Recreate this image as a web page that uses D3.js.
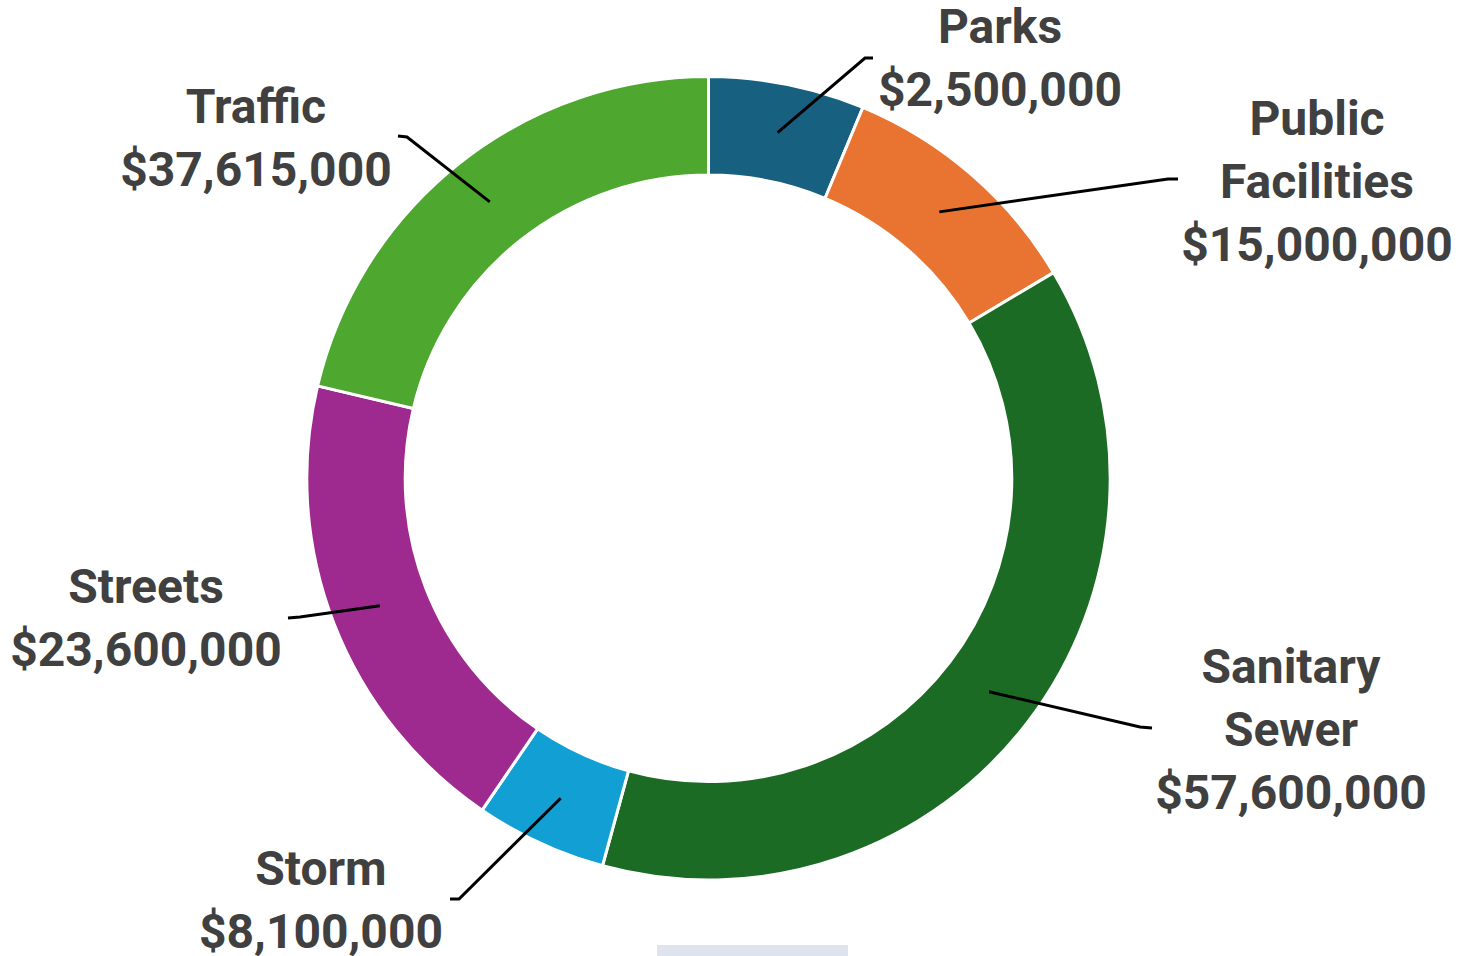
<!DOCTYPE html>
<html>
<head>
<meta charset="utf-8">
<script src="https://cdn.jsdelivr.net/npm/d3@7"></script>
<style>
  html, body { margin: 0; padding: 0; background: #fff; }
  #chart { width: 1463px; height: 956px; }
</style>
</head>
<body>
<div id="chart"></div>
<script>
// Categories, in drawing order (clockwise from 12 o'clock)
const categories = ["Parks", "Public Facilities", "Sanitary Sewer", "Storm", "Streets", "Traffic"];
// Dollar amounts shown in the labels
const amounts = [2500000, 15000000, 57600000, 8100000, 23600000, 37615000];
// Slice shares (percent of the ring) as drawn in the picture
const sliceShare = [6.28, 10.17, 37.81, 5.28, 19.17, 21.31];
// Label lines (category names split the way the chart wraps them)
const labelLines = [["Parks"], ["Public", "Facilities"], ["Sanitary", "Sewer"], ["Storm"], ["Streets"], ["Traffic"]];
const colors = ["#17607f", "#e97432", "#1b6b24", "#119fd4", "#9e2a8f", "#4ea72e"];

const width = 1463, height = 956;
const cx = 708.5, cy = 478.3;
const outerR = 401.7, innerR = 303.3;

// label placement: centre x, first baseline, leader elbow and end
const labelPos = {
  "Parks":             { x: 1000, y: 43,  elbow: [865, 58],   end: [873, 58] },
  "Public Facilities": { x: 1317, y: 135, elbow: [1168, 179], end: [1178, 179] },
  "Sanitary Sewer":    { x: 1291, y: 683, elbow: [1140, 727], end: [1152, 728] },
  "Storm":             { x: 321,  y: 885, elbow: [459, 899],  end: [450, 899] },
  "Streets":           { x: 146,  y: 603, elbow: [300, 617],  end: [288, 618] },
  "Traffic":           { x: 256,  y: 123, elbow: [407, 137],  end: [398, 136] }
};
const lineGap = 63;

const data = categories.map((c, i) => ({
  name: c, amount: amounts[i], share: sliceShare[i], lines: labelLines[i], color: colors[i]
}));

const svg = d3.select("#chart").append("svg")
  .attr("width", width)
  .attr("height", height)
  .style("background-color", "#ffffff");

const pie = d3.pie()
  .value(d => d.share)
  .sort(null);

const arc = d3.arc()
  .innerRadius(innerR)
  .outerRadius(outerR);

const arcs = pie(data);

const ring = svg.append("g")
  .attr("transform", `translate(${cx},${cy})`);

ring.selectAll(".slice")
  .data(arcs)
  .enter()
  .append("path")
  .attr("class", "slice")
  .attr("d", arc)
  .attr("fill", d => d.data.color)
  .attr("stroke", "#ffffff")
  .attr("stroke-width", 3)
  .attr("stroke-linejoin", "miter");

// Leader lines from ring centroid to label elbow
const fmt = d3.format("$,");

svg.selectAll(".leader")
  .data(arcs)
  .enter()
  .append("polyline")
  .attr("class", "leader")
  .attr("fill", "none")
  .attr("stroke", "#000000")
  .attr("stroke-width", 3)
  .attr("points", d => {
    const c = arc.centroid(d);
    const p = labelPos[d.data.name];
    return [[cx + c[0], cy + c[1]], p.elbow, p.end].map(q => q.join(",")).join(" ");
  });

// Labels
const labels = svg.selectAll(".label")
  .data(data)
  .enter()
  .append("text")
  .attr("class", "label")
  .attr("text-anchor", "middle")
  .attr("font-family", "Roboto, 'Liberation Sans', sans-serif")
  .attr("font-weight", "bold")
  .attr("font-size", "48px")
  .attr("fill", "#404040");

labels.each(function(d) {
  const p = labelPos[d.name];
  const t = d3.select(this);
  const all = d.lines.concat([fmt(d.amount)]);
  all.forEach((line, i) => {
    t.append("tspan")
      .attr("x", p.x)
      .attr("y", p.y + i * lineGap)
      .text(line);
  });
});

// faint strip at the bottom edge of the frame
svg.append("rect")
  .attr("x", 657)
  .attr("y", 945)
  .attr("width", 191)
  .attr("height", 11)
  .attr("fill", "#dfe3ee");
</script>
</body>
</html>
